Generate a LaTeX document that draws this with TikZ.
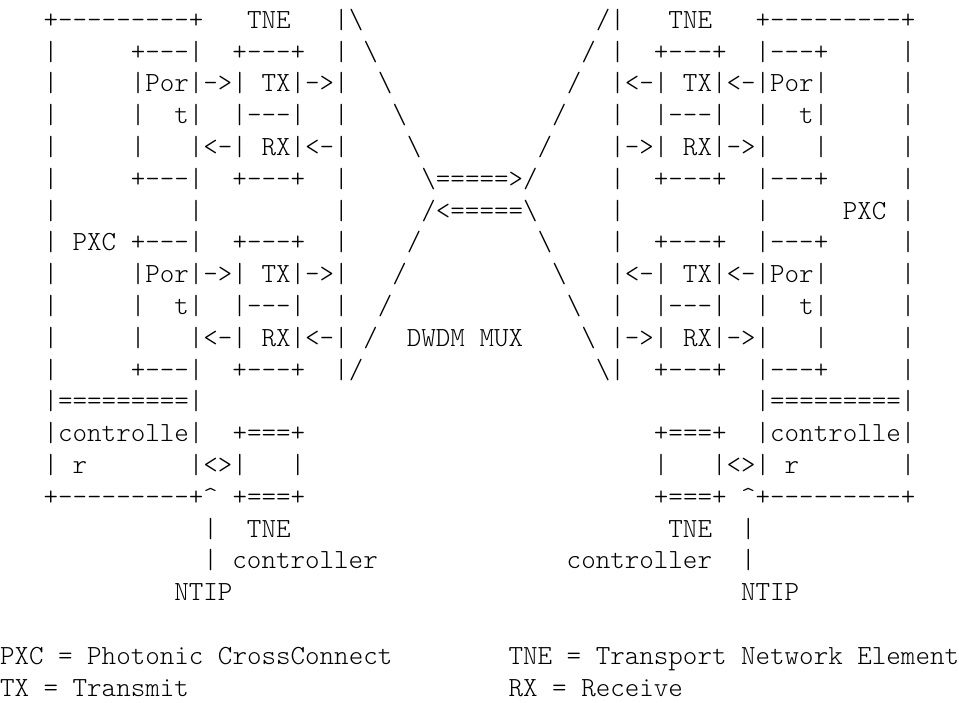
\documentclass[tikz,border=0pt]{standalone}
\usepackage{tikz}

\newcommand{\bksl}{\textbackslash}
\newcommand{\crt}{\textasciicircum}

\tikzset{
  txtrow/.style={anchor=base west, inner sep=0pt, outer sep=0pt,
    font=\fontsize{13.84pt}{15.9pt}\ttfamily\fontseries{l}\selectfont\frenchspacing,
    execute at begin node=\obeyspaces}
}

\begin{document}
\begin{tikzpicture}[x=7.265pt, y=15.9pt]

    \useasboundingbox (0,-0.11) rectangle (66,-22.19);

    % PXC / TNE pairs and the DWDM mux
    \node[txtrow] (r1) at (3,-1) {+---------+   TNE   |\bksl                /|   TNE   +---------+};
    \node[txtrow] (r2) at (3,-2) {|     +---|  +---+  | \bksl              / |  +---+  |---+     |};
    \node[txtrow] (r3) at (3,-3) {|     |Por|->| TX|->|  \bksl            /  |<-| TX|<-|Por|     |};
    \node[txtrow] (r4) at (3,-4) {|     |  t|  |---|  |   \bksl          /   |  |---|  |  t|     |};
    \node[txtrow] (r5) at (3,-5) {|     |   |<-| RX|<-|    \bksl        /    |->| RX|->|   |     |};
    \node[txtrow] (r6) at (3,-6) {|     +---|  +---+  |     \bksl=====>/     |  +---+  |---+     |};
    \node[txtrow] (r7) at (3,-7) {|         |         |     /<=====\bksl     |         |     PXC |};
    \node[txtrow] (r8) at (3,-8) {| PXC +---|  +---+  |    /        \bksl    |  +---+  |---+     |};
    \node[txtrow] (r9) at (3,-9) {|     |Por|->| TX|->|   /          \bksl   |<-| TX|<-|Por|     |};
    \node[txtrow] (r10) at (3,-10) {|     |  t|  |---|  |  /            \bksl  |  |---|  |  t|     |};
    \node[txtrow] (r11) at (3,-11) {|     |   |<-| RX|<-| /  DWDM MUX    \bksl |->| RX|->|   |     |};
    \node[txtrow] (r12) at (3,-12) {|     +---|  +---+  |/                \bksl|  +---+  |---+     |};

    % controllers
    \node[txtrow] (r13) at (3,-13) {|=========|                                      |=========|};
    \node[txtrow] (r14) at (3,-14) {|controlle|  +===+                        +===+  |controlle|};
    \node[txtrow] (r15) at (3,-15) {| r       |<>|   |                        |   |<>| r       |};
    \node[txtrow] (r16) at (3,-16) {+---------+\crt{} +===+                        +===+ \crt+---------+};
    \node[txtrow] (r17) at (14,-17) {|  TNE                          TNE  |};
    \node[txtrow] (r18) at (14,-18) {| controller             controller  |};
    \node[txtrow] (r19) at (12,-19) {NTIP                                   NTIP};

    % legend
    \node[txtrow] (r21) at (0,-21) {PXC = Photonic CrossConnect        TNE = Transport Network Element};
    \node[txtrow] (r22) at (0,-22) {TX = Transmit                      RX = Receive};

\end{tikzpicture}
\end{document}
